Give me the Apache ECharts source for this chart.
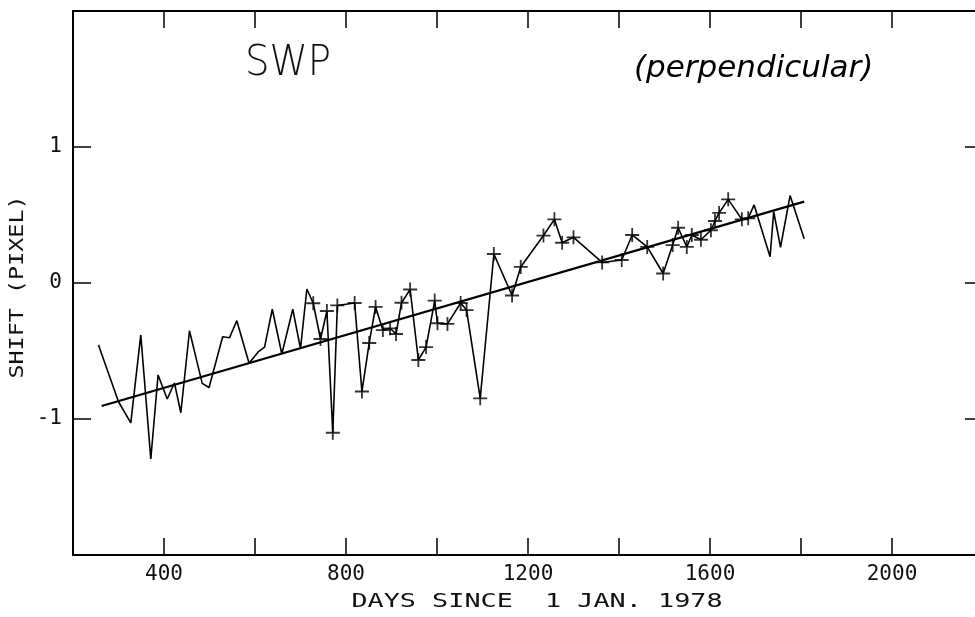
<!DOCTYPE html>
<html>
<head>
<meta charset="utf-8">
<script src="https://cdn.jsdelivr.net/npm/echarts@6/dist/echarts.min.js"></script>
<style>
html,body{margin:0;padding:0;background:#fff;}
#c{width:975px;height:617px;}
</style>
</head>
<body>
<div id="c"></div>
<script>
// ---- data ----
var earlyDays  = [256, 300, 327, 349, 371, 387, 407, 423, 437, 456, 484, 499, 529, 544, 560, 587, 607, 621, 638, 659, 683, 700, 714];
var earlyShift = [-0.456, -0.873, -1.029, -0.382, -1.294, -0.676, -0.853, -0.735, -0.954, -0.351, -0.738, -0.768, -0.395, -0.403, -0.277, -0.590, -0.507, -0.471, -0.193, -0.522, -0.193, -0.482, -0.044];

var markedDays  = [728, 744, 758, 771, 781, 819, 835, 851, 865, 881, 897, 910, 922, 941, 959, 976, 995, 1001, 1023, 1052, 1065, 1095, 1125, 1165, 1184, 1234, 1258, 1275, 1300, 1363, 1406, 1429, 1462, 1497, 1518, 1530, 1549, 1560, 1580, 1602, 1611, 1620, 1640, 1670, 1684];
var markedShift = [-0.149, -0.412, -0.206, -1.101, -0.165, -0.147, -0.798, -0.441, -0.176, -0.346, -0.333, -0.375, -0.145, -0.048, -0.566, -0.471, -0.129, -0.296, -0.301, -0.147, -0.199, -0.848, 0.213, -0.092, 0.118, 0.349, 0.468, 0.296, 0.336, 0.151, 0.169, 0.353, 0.265, 0.070, 0.279, 0.406, 0.265, 0.353, 0.318, 0.388, 0.456, 0.515, 0.615, 0.468, 0.476];

var lateDays  = [1697, 1732, 1740, 1755, 1776, 1807];
var lateShift = [0.574, 0.193, 0.524, 0.263, 0.643, 0.326];

var fitDays  = [263, 1807];
var fitShift = [-0.904, 0.598];

var xTickLabels = [400, 800, 1200, 1600, 2000];
var yTickLabels = [-1, 0, 1];

var titleText = 'SWP';
var noteText = '(perpendicular)';
var xTitle = 'DAYS SINCE  1 JAN. 1978';
var yTitle = 'SHIFT (PIXEL)';

// ---- build ----
function pairs(xs, ys){ return xs.map(function(x,i){ return [x, ys[i]]; }); }
var allDays = earlyDays.concat(markedDays, lateDays);
var allShift = earlyShift.concat(markedShift, lateShift);

var MONO = '"DejaVu Sans Mono", "Liberation Mono", monospace';
var plus = 'path://M-1.3,-10 L1.3,-10 L1.3,-1.3 L10,-1.3 L10,1.3 L1.3,1.3 L1.3,10 L-1.3,10 L-1.3,1.3 L-10,1.3 L-10,-1.3 L-1.3,-1.3 Z';

var chart = echarts.init(document.getElementById('c'), null, {renderer:'canvas'});

function axisLine(){ return {show:true, onZero:false, lineStyle:{color:'#000', width:2}}; }

var option = {
  animation:false,
  backgroundColor:'#fff',
  grid:{left:73, top:11, right:-8, bottom:62, show:false, containLabel:false, outerBoundsMode:'none'},
  xAxis:[
    {type:'value', min:200, max:2200, interval:200, position:'bottom',
     axisLine:axisLine(), splitLine:{show:false},
     axisTick:{show:true, inside:true, length:17, lineStyle:{color:'#000', width:1.5}},
     axisLabel:{margin:9, fontFamily:MONO, fontSize:21, color:'#111',
       formatter:function(v){ return xTickLabels.indexOf(v) >= 0 ? String(v) : ''; }}},
    {type:'value', min:200, max:2200, interval:200, position:'top',
     axisLine:axisLine(), splitLine:{show:false},
     axisTick:{show:true, inside:true, length:17, lineStyle:{color:'#000', width:1.5}},
     axisLabel:{show:false}}
  ],
  yAxis:[
    {type:'value', min:-2, max:2, interval:1, position:'left',
     axisLine:axisLine(), splitLine:{show:false},
     axisTick:{show:true, inside:true, length:18, lineStyle:{color:'#000', width:1.5}},
     axisLabel:{margin:11, fontFamily:MONO, fontSize:21, color:'#111',
       formatter:function(v){ return yTickLabels.indexOf(v) >= 0 ? String(v) : ''; }}},
    {type:'value', min:-2, max:2, interval:1, position:'right',
     axisLine:axisLine(), splitLine:{show:false},
     axisTick:{show:true, inside:true, length:18, lineStyle:{color:'#000', width:1.5}},
     axisLabel:{show:false}}
  ],
  graphic:[
    {type:'text', x:245, y:64, scaleX:0.9, style:{text:titleText, font:'200 43px "DejaVu Sans", sans-serif', fill:'#111', verticalAlign:'middle'}},
    {type:'text', left:634, top:53, style:{text:noteText, font:'italic 31px "DejaVu Sans", sans-serif', fill:'#000'}},
    {type:'text', x:537, y:602, scaleX:1.34, style:{text:xTitle, font:'20px ' + MONO, fill:'#111', align:'center', verticalAlign:'middle'}},
    {type:'text', x:18, y:287, rotation:Math.PI/2, scaleX:1.17, style:{text:yTitle, font:'20px ' + MONO, fill:'#111', align:'center', verticalAlign:'middle'}}
  ],
  series:[
    {type:'line', data:pairs(allDays, allShift), symbol:'none', z:3,
     lineStyle:{color:'#000', width:1.6}},
    {type:'line', data:pairs(fitDays, fitShift), symbol:'none', z:4,
     lineStyle:{color:'#000', width:2.2}},
    {type:'scatter', data:pairs(markedDays, markedShift), symbol:plus, symbolSize:14, z:5,
     itemStyle:{color:'#000'}}
  ]
};
chart.setOption(option);
</script>
</body>
</html>
